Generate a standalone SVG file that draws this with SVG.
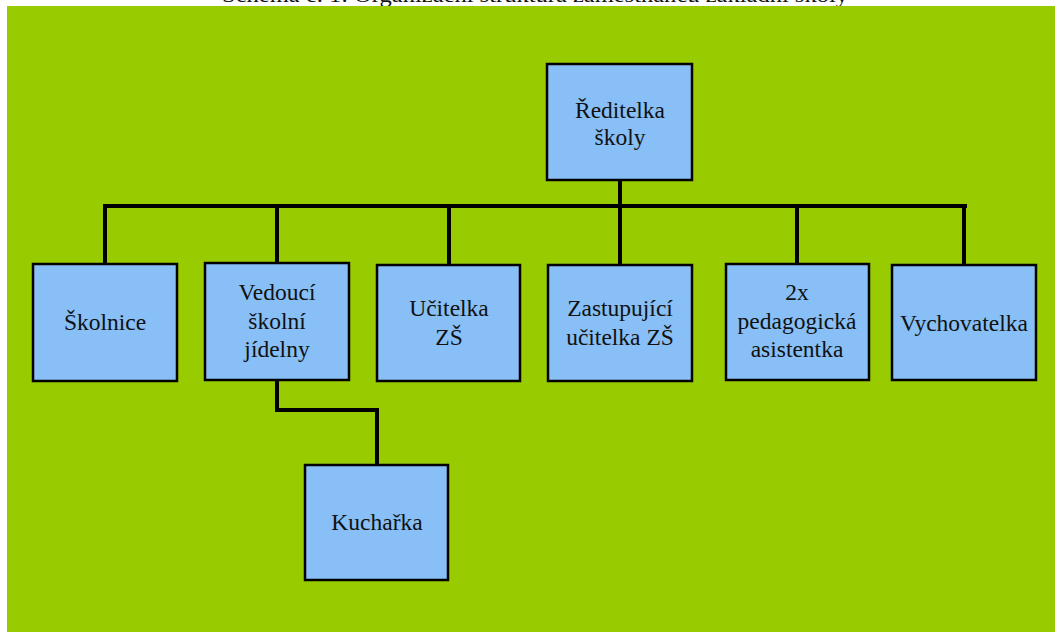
<svg xmlns="http://www.w3.org/2000/svg" width="1055" height="632" viewBox="0 0 1055 632">
<style>
.box{fill:#87BFF6;stroke:#000;stroke-width:2.5}
.t{font-family:"Liberation Serif","Times New Roman",serif;font-size:23.5px;fill:#111;text-anchor:middle}
.ttl{font-family:"Liberation Serif","Times New Roman",serif;font-size:20px;fill:#111}
.c{fill:none;stroke:#000;stroke-width:4;stroke-linejoin:miter;stroke-linecap:square}
</style>
<rect x="0" y="0" width="1055" height="632" fill="#fff"/>
<text class="ttl" x="222" y="1.5" textLength="626" lengthAdjust="spacingAndGlyphs">Schéma č. 1: Organizační struktura zaměstnanců základní školy</text>
<rect x="7" y="6" width="1048" height="626" fill="#99CC00"/>
<g id="connectors">
<path class="c" d="M620 181V206M105 206H965M105 206V264M277 206V263M449 206V265M620 206V265M797 206V264M964 206V265"/>
<path class="c" d="M277 380V410H377V465"/>
</g>
<g id="reditelka">
<rect class="box" x="547" y="64" width="145" height="116"/>
<text class="t" x="620" y="118">Ředitelka</text>
<text class="t" x="620" y="145">školy</text>
</g>
<g id="skolnice">
<rect class="box" x="33" y="264" width="144" height="117"/>
<text class="t" x="105" y="330">Školnice</text>
</g>
<g id="vedouci">
<rect class="box" x="205" y="263" width="144" height="117"/>
<text class="t" x="277" y="300">Vedoucí</text>
<text class="t" x="277" y="329">školní</text>
<text class="t" x="277" y="357">jídelny</text>
</g>
<g id="kucharka">
<rect class="box" x="305" y="465" width="143" height="115"/>
<text class="t" x="377" y="530">Kuchařka</text>
</g>
<g id="ucitelka">
<rect class="box" x="377" y="265" width="143" height="116"/>
<text class="t" x="449" y="316">Učitelka</text>
<text class="t" x="449" y="345">ZŠ</text>
</g>
<g id="zastupujici">
<rect class="box" x="548" y="265" width="144" height="116"/>
<text class="t" x="620" y="316">Zastupující</text>
<text class="t" x="620" y="345">učitelka ZŠ</text>
</g>
<g id="asistentka">
<rect class="box" x="726" y="264" width="143" height="116"/>
<text class="t" x="797" y="300">2x</text>
<text class="t" x="797" y="329">pedagogická</text>
<text class="t" x="797" y="357">asistentka</text>
</g>
<g id="vychovatelka">
<rect class="box" x="892" y="265" width="144" height="115"/>
<text class="t" x="964" y="331">Vychovatelka</text>
</g>
</svg>
